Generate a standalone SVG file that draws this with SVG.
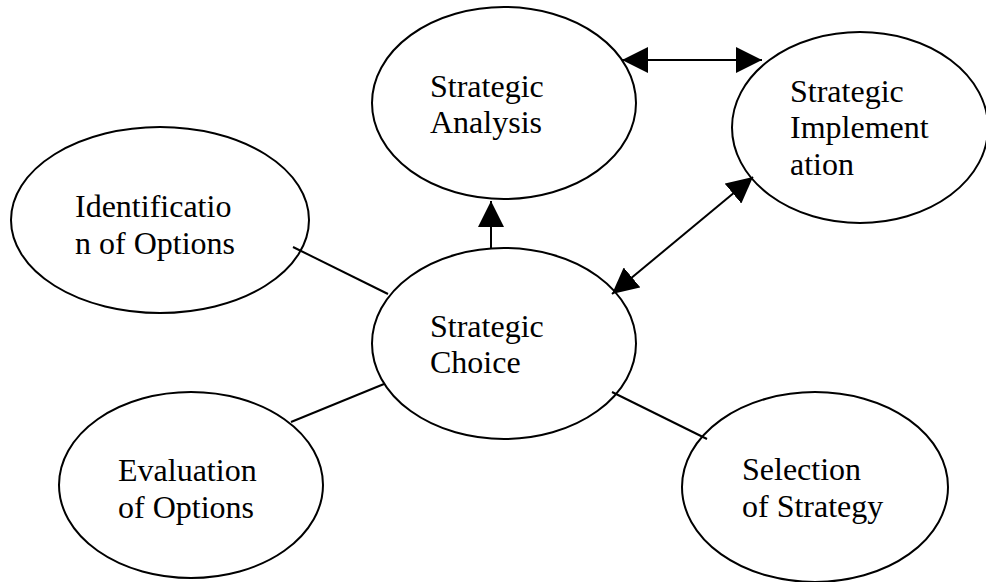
<svg xmlns="http://www.w3.org/2000/svg" width="986" height="582" viewBox="0 0 986 582">
<style>
ellipse{fill:#fff;stroke:#000;stroke-width:2}
text{font-family:'Liberation Serif',serif;font-size:32px;fill:#000}
.c line{stroke:#000;stroke-width:2}
</style>
<defs>
<marker id="ah" markerUnits="userSpaceOnUse" markerWidth="26" markerHeight="26" refX="26" refY="13" orient="auto-start-reverse" viewBox="0 0 26 26">
<path d="M0,0 L26,13 L0,26 z" fill="#000"/>
</marker>
</defs>
<rect width="986" height="582" fill="#fff"/>
<g id="analysis"><ellipse cx="504" cy="103" rx="132" ry="96"/><text x="430" y="97">Strategic</text><text x="430" y="133">Analysis</text></g>
<g id="implementation"><ellipse cx="860" cy="127.5" rx="128" ry="95.5"/><text x="790" y="102">Strategic</text><text x="790" y="138">Implement</text><text x="790" y="175">ation</text></g>
<g id="identification"><ellipse cx="160" cy="220" rx="149" ry="93"/><text x="75" y="217">Identificatio</text><text x="75" y="254">n of Options</text></g>
<g id="choice"><ellipse cx="504" cy="343.5" rx="132" ry="95.5"/><text x="430" y="337">Strategic</text><text x="430" y="373">Choice</text></g>
<g id="evaluation"><ellipse cx="191" cy="485" rx="132" ry="93"/><text x="118" y="481">Evaluation</text><text x="118" y="518">of Options</text></g>
<g id="selection"><ellipse cx="815" cy="487" rx="133" ry="95"/><text x="742" y="480">Selection</text><text x="742" y="517">of Strategy</text></g>
<g class="c" id="connectors">
<line x1="622" y1="60" x2="762" y2="60" marker-start="url(#ah)" marker-end="url(#ah)"/>
<line x1="491" y1="248" x2="491" y2="201" marker-end="url(#ah)"/>
<line x1="612" y1="294" x2="753" y2="177" marker-start="url(#ah)" marker-end="url(#ah)"/>
<line x1="293" y1="247" x2="388" y2="294"/>
<line x1="291" y1="422" x2="384" y2="384"/>
<line x1="612" y1="392" x2="707" y2="439"/>
</g>
</svg>
